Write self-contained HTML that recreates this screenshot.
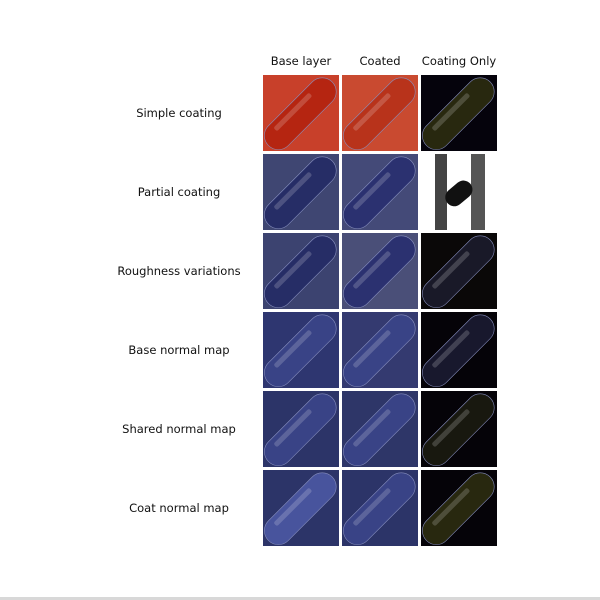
<!DOCTYPE html>
<html><head><meta charset="utf-8"><style>
body{margin:0;background:#fff;width:600px;height:600px;overflow:hidden;position:relative;font-family:"DejaVu Sans","Liberation Sans",sans-serif;}
.ct{position:absolute;top:54px;font-size:11.5px;color:#111;text-align:center;width:90px;}
.rl{position:absolute;left:100px;width:158px;text-align:center;font-size:11.5px;color:#111;}
.cell{position:absolute;width:76px;height:76px;overflow:hidden;}
</style></head><body>
<div class="ct" style="left:256px">Base layer</div>
<div class="ct" style="left:335px">Coated</div>
<div class="ct" style="left:414px">Coating Only</div>
<div id="grid"></div>
<div style="position:absolute;left:0;top:597px;width:600px;height:3px;background:#d8d8d8"></div>
<script>
const rows=["Simple coating","Partial coating","Roughness variations","Base normal map","Shared normal map","Coat normal map"];
const bgs=[["#c8402a","#c94a30","#05030c"],["#3f4672","#444a78","#ffffff"],["#3c4370","#4a4f78","#0a0808"],["#2e3670","#343a70","#050308"],["#2c3468","#2e3668","#050308"],["#2c3468","#2c3468","#050308"]];
const fg=[["#b52410","#b8321a","#2a2a10"],["#252c66","#2a3070","#222"],["#252c66","#2a3070","#1a1a2a"],["#3a4488","#3a4488","#1a1a30"],["#3a4488","#3a4488","#1a1a10"],["#4a56a0","#3a4488","#2a2a10"]];
const xs=[263,342,421],ys=[75,154,233,312,391,470];
const g=document.getElementById('grid');
rows.forEach((r,i)=>{
 const l=document.createElement('div');l.className='rl';l.style.top=(ys[i]+31)+'px';l.textContent=r;
 
 
 g.appendChild(l);
 for(let j=0;j<3;j++){
  const c=document.createElement('div');c.className='cell';
  c.style.left=xs[j]+'px';c.style.top=ys[i]+'px';c.style.background=bgs[i][j];
  
  
  let inner='';
  if(i==1&&j==2){inner='<rect x="14" y="0" width="12" height="76" fill="#444"/><rect x="50" y="0" width="14" height="76" fill="#555"/><g transform="rotate(-40 38 38)"><rect x="22" y="30" width="30" height="18" rx="9" fill="#111"/></g>';}
  else{inner='<g transform="rotate(-45 38 38)"><rect x="-8" y="24" width="90" height="28" rx="14" fill="'+fg[i][j]+'" stroke="#8890c0" stroke-width="0.6" opacity="0.95"/><rect x="8" y="29" width="50" height="5" rx="2" fill="#ffffff" opacity="0.18"/></g>';}
  c.innerHTML='<svg width="76" height="76">'+inner+'</svg>';
  g.appendChild(c);
 }
});
</script>
</body></html>
